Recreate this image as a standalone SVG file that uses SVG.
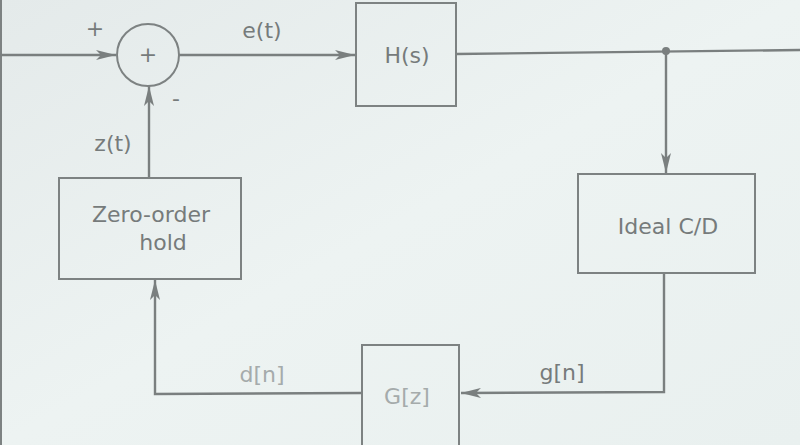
<svg xmlns="http://www.w3.org/2000/svg" width="800" height="445" viewBox="0 0 800 445">
<defs>
<linearGradient id="bg" x1="0" y1="0" x2="1" y2="1">
<stop offset="0" stop-color="#e4eaea"/>
<stop offset="0.5" stop-color="#edf3f2"/>
<stop offset="1" stop-color="#e9f0ef"/>
</linearGradient>
<marker id="arr" viewBox="0 0 20 10" refX="20" refY="5" markerWidth="20" markerHeight="10" markerUnits="userSpaceOnUse" orient="auto">
<path d="M0,0 L20,5 L0,10 L5,5 Z" fill="#7a7f7f"/>
</marker>
</defs>
<style>
.box{fill:none;stroke:#7d8282;stroke-width:2}
.ln{fill:none;stroke:#7a7f7f;stroke-width:2.4}
.t{font-family:"DejaVu Sans","Liberation Sans",sans-serif;fill:#767b7b;font-size:22px;text-anchor:middle}
.lt{fill:#a5abab}
</style>
<rect width="800" height="445" fill="url(#bg)"/>
<line x1="1" y1="0" x2="1" y2="445" stroke="#7d8282" stroke-width="2"/>
<g id="connectors">
<line class="ln" x1="0" y1="55" x2="116" y2="55" marker-end="url(#arr)"/>
<line class="ln" x1="178" y1="55" x2="355" y2="55" marker-end="url(#arr)"/>
<line class="ln" x1="456" y1="54" x2="800" y2="50"/>
<circle cx="666" cy="51" r="4" fill="#7a7f7f"/>
<line class="ln" x1="666" y1="51" x2="666" y2="173" marker-end="url(#arr)"/>
<polyline class="ln" points="664,273 664,392 461,393" marker-end="url(#arr)"/>
<polyline class="ln" points="361,393 155,394 155,280" marker-end="url(#arr)"/>
<line class="ln" x1="149" y1="178" x2="149" y2="86" marker-end="url(#arr)"/>
</g>
<g id="sum">
<circle cx="148" cy="55" r="31" class="box"/>
<text class="t" x="148" y="62" font-size="18">+</text>
</g>
<text class="t" x="95" y="36" font-size="18">+</text>
<text class="t" x="176" y="106" font-size="18">-</text>
<text class="t" x="262" y="38">e(t)</text>
<g id="H">
<rect class="box" x="356" y="3" width="100" height="103"/>
<text class="t" x="407" y="63">H(s)</text>
</g>
<g id="CD">
<rect class="box" x="578" y="174" width="177" height="99"/>
<text class="t" x="668" y="234">Ideal C/D</text>
</g>
<text class="t" x="562" y="380">g[n]</text>
<g id="G">
<rect class="box" x="362" y="345" width="97" height="110" stroke="#a7acac"/>
<text class="t lt" x="407" y="404">G[z]</text>
</g>
<text class="t lt" x="262" y="382">d[n]</text>
<g id="ZOH">
<rect class="box" x="59" y="178" width="182" height="101"/>
<text class="t" x="151" y="222">Zero-order</text>
<text class="t" x="163" y="250">hold</text>
</g>
<text class="t" x="113" y="151">z(t)</text>
</svg>
